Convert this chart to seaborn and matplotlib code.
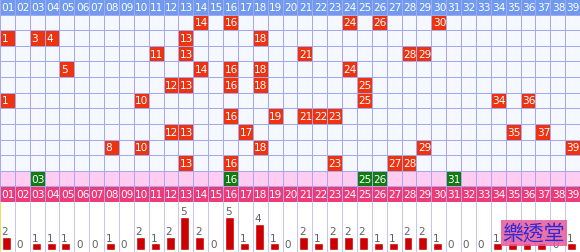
import numpy as np
import seaborn as sns
import matplotlib.pyplot as plt
from matplotlib.colors import ListedColormap

# Ten recent draws (five numbers each), the special numbers, and hit counts per number
draws = [
    [14, 16, 24, 26, 30],
    [1, 3, 4, 13, 18],
    [11, 13, 21, 28, 29],
    [5, 14, 16, 18, 24],
    [12, 13, 16, 18, 25],
    [1, 10, 25, 34, 36],
    [16, 19, 21, 22, 23],
    [12, 13, 17, 35, 37],
    [8, 10, 18, 29, 39],
    [13, 16, 23, 27, 28],
]
specials = [3, 16, 25, 26, 31]
numbers = [f"{i:02d}" for i in range(1, 40)]
counts = [2, 0, 1, 1, 1, 0, 0, 1, 0, 2, 1, 2, 5, 2, 0, 5, 1, 4, 1, 0,
          2, 1, 2, 2, 2, 1, 1, 2, 2, 1, 0, 0, 0, 1, 1, 1, 1, 0, 1]

BG, RED, BLUE, PINK_L, GREEN, PINK_D = "#f5f8ff", "#ee3311", "#6f9af0", "#ffcdf2", "#127a12", "#ee3a78"
GRID = "#a6a8ee"

sns.set_theme(style="white")
plt.rcParams["font.family"] = ["DejaVu Sans", "Noto Sans CJK TC"]

n = len(numbers)
rows = len(draws) + 3
codes = np.zeros((rows, n))
labels = np.full((rows, n), "", dtype=object)
codes[0, :] = 2
labels[0, :] = numbers
for r, d in enumerate(draws, start=1):
    for v in d:
        codes[r, v - 1] = 1
        labels[r, v - 1] = str(v)
codes[rows - 2, :] = 3
for v in specials:
    codes[rows - 2, v - 1] = 4
    labels[rows - 2, v - 1] = numbers[v - 1]
codes[rows - 1, :] = 5
labels[rows - 1, :] = numbers

fig = plt.figure(figsize=(5.8, 2.53), dpi=100)
ax = fig.add_axes([0, 50 / 253, 1, 203 / 253])
ax2 = fig.add_axes([0, 0, 1, 50 / 253])

cmap = ListedColormap([BG, RED, BLUE, PINK_L, GREEN, PINK_D])
sns.heatmap(codes, cmap=cmap, vmin=-0.5, vmax=5.5, annot=labels, fmt="",
            cbar=False, linewidths=0.6, linecolor=GRID, ax=ax,
            xticklabels=False, yticklabels=False,
            annot_kws=dict(fontsize=7.6, color="white"))
for t in ax.texts:
    x, y = t.get_position()
    t.set_position((x - 0.5 + 0.1, y))
    t.set_ha("left")
    t.set_color("white")

# Hit-count bars below the grid
off = 0.435
for k in range(n + 1):
    ax2.axvline(k - off, color="#c4c4f2", lw=0.7, zorder=0)
sns.barplot(x=numbers, y=counts, color="#cc0000", saturation=1, width=0.6,
            ax=ax2, zorder=2)
for i, c in enumerate(counts):
    ax2.text(i - 0.32, c + 0.12, str(c), ha="left", va="bottom",
             fontsize=7.5, color="#606060", zorder=3)
ax2.set_xlim(-off, n - off)
ax2.set_ylim(-0.3, 7.3)
ax2.set_xticks([])
ax2.set_yticks([])
ax2.set_xlabel("")
ax2.set_ylabel("")
for s in ax2.spines.values():
    s.set_visible(False)
ax2.axvline(-off, color="#e8e070", lw=1.6, zorder=4)

fig.text(534 / 580, 1 - 234 / 253, "樂透堂", ha="center", va="center",
         fontsize=15, color="#2a2ad8", family=["Noto Sans CJK TC"], zorder=10,
         bbox=dict(boxstyle="square,pad=0.1", fc="#e8589a", ec="none", alpha=0.85))

fig.savefig("out.png", dpi=100)
